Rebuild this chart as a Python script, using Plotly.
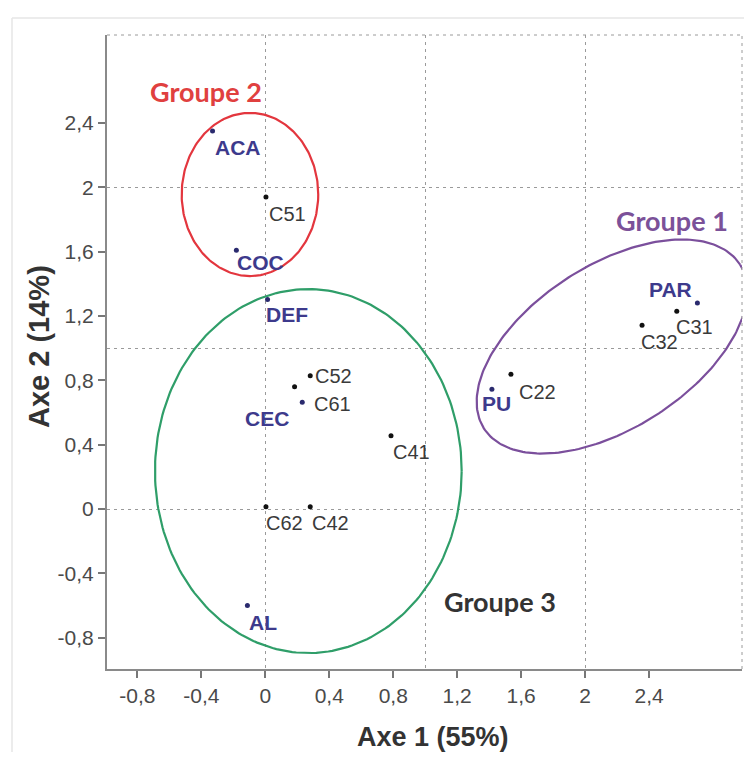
import numpy as np
import plotly.graph_objects as go

# ---- data ----
var_names = ["ACA", "COC", "DEF", "CEC", "AL", "PU", "PAR"]
var_x = [-0.33, -0.181, 0.014, 0.231, -0.112, 1.417, 2.702]
var_y = [2.35, 1.609, 1.302, 0.663, -0.60, 0.745, 1.281]

samp_names = ["C51", "C52", "C61", "C41", "C62", "C42", "C22", "C32", "C31"]
samp_x = [0.004, 0.281, 0.183, 0.786, 0.004, 0.281, 1.536, 2.356, 2.573]
samp_y = [1.94, 0.828, 0.76, 0.455, 0.014, 0.014, 0.837, 1.143, 1.230]

tick_vals = [-0.8, -0.4, 0, 0.4, 0.8, 1.2, 1.6, 2, 2.4]
tick_text = ["-0,8", "-0,4", "0", "0,4", "0,8", "1,2", "1,6", "2", "2,4"]

groups = ["Groupe 1", "Groupe 2", "Groupe 3"]
group_label_x = [2.541, -0.374, 1.468]
group_label_y = [1.792, 2.596, -0.576]
# ellipse geometry: centre x, centre y, semi-axis a, semi-axis b, angle (deg)
ell_cx = [2.168, -0.096, 0.269]
ell_cy = [1.010, 1.955, 0.236]
ell_a = [0.949, 0.427, 0.959]
ell_b = [0.508, 0.507, 1.131]
ell_ang = [32.4, 0.0, 0.0]

# ---- styles ----
group_colors = ["#7b4f9c", "#e3363e", "#2f9e69"]
group_text_colors = ["#7b5199", "#e0403f", "#333333"]
var_color = "#3d3a8c"
dot_var = "#2a2a6e"
samp_color = "#3a3a3a"

# label offsets in px (dx right, dy down)
label_off = {
    "ACA": (25, 17), "COC": (24, 12), "DEF": (19, 15), "CEC": (-35, 16),
    "AL": (16, 17), "PU": (5, 14), "PAR": (-27, -13),
    "C51": (22, 17), "C52": (23, 0), "C61": (38, 17), "C41": (20, 16),
    "C62": (19, 16), "C42": (20, 16), "C22": (27, 18), "C32": (17, 17),
    "C31": (18, 16),
}

fig = go.Figure()

t = np.linspace(0, 2 * np.pi, 241)
for i in range(len(groups)):
    th = np.deg2rad(ell_ang[i])
    ex = ell_cx[i] + ell_a[i] * np.cos(t) * np.cos(th) - ell_b[i] * np.sin(t) * np.sin(th)
    ey = ell_cy[i] + ell_a[i] * np.cos(t) * np.sin(th) + ell_b[i] * np.sin(t) * np.cos(th)
    fig.add_trace(go.Scatter(x=ex, y=ey, mode="lines",
                             line=dict(color=group_colors[i], width=2.2),
                             hoverinfo="skip", showlegend=False))

fig.add_trace(go.Scatter(x=samp_x, y=samp_y, mode="markers",
                         marker=dict(color="#111111", size=5),
                         text=samp_names, showlegend=False))
fig.add_trace(go.Scatter(x=var_x, y=var_y, mode="markers",
                         marker=dict(color=dot_var, size=5),
                         text=var_names, showlegend=False))

annotations = []
for n, x, y in zip(samp_names, samp_x, samp_y):
    dx, dy = label_off[n]
    annotations.append(dict(x=x, y=y, text=n, showarrow=False, xshift=dx, yshift=-dy,
                            xanchor="center", yanchor="middle",
                            font=dict(family="Liberation Sans, Arial", size=20, color=samp_color)))
for n, x, y in zip(var_names, var_x, var_y):
    dx, dy = label_off[n]
    annotations.append(dict(x=x, y=y, text="<b>%s</b>" % n, showarrow=False, xshift=dx, yshift=-dy,
                            xanchor="center", yanchor="middle",
                            font=dict(family="Liberation Sans, Arial", size=21, color=var_color)))
for g, x, y, c in zip(groups, group_label_x, group_label_y, group_text_colors):
    annotations.append(dict(x=x, y=y, text="<b>%s</b>" % g, showarrow=False,
                            xanchor="center", yanchor="middle",
                            font=dict(family="Lato, Open Sans", size=27, color=c)))

annotations.append(dict(xref="paper", yref="paper", x=0.5126, y=-0.1075, text="<b>Axe 1 (55%)</b>",
                        showarrow=False, xanchor="center", yanchor="middle",
                        font=dict(family="Liberation Sans, Arial", size=27, color="#333333")))
annotations.append(dict(xref="paper", yref="paper", x=-0.107, y=0.508, text="<b>Axe 2 (14%)</b>",
                        showarrow=False, xanchor="center", yanchor="middle", textangle=-90,
                        font=dict(family="Liberation Sans, Arial", size=29, color="#333333")))

grid_style = dict(showgrid=True, gridcolor="#9a9a9a", gridwidth=1, griddash="3px,4px")

axis_common = dict(
    tickmode="array", tickvals=tick_vals, ticktext=tick_text,
    ticks="outside", ticklen=7, tickwidth=1.5, tickcolor="#777777",
    showline=True, linecolor="#8a8a8a", linewidth=2,
    showgrid=False, zeroline=False,
    tickfont=dict(family="Liberation Sans, Arial", size=21, color="#4a4a4a"),
    minor=dict(tickmode="array", tickvals=[0, 1, 2], ticks="", **grid_style),
)

fig.update_layout(
    width=736, height=744,
    margin=dict(l=99, r=2, t=27, b=83),
    paper_bgcolor="white", plot_bgcolor="white",
    xaxis=dict(range=[-0.990, 2.981], **axis_common),
    yaxis=dict(range=[-0.994, 2.946], **axis_common),
    annotations=annotations,
    shapes=[
        dict(type="line", xref="paper", yref="paper", x0=0, x1=1, y0=1, y1=1,
             line=dict(color="#9a9a9a", width=1, dash="3px,4px")),
        dict(type="line", xref="paper", yref="paper", x0=1, x1=1, y0=0, y1=1,
             line=dict(color="#9a9a9a", width=1, dash="3px,4px")),
        dict(type="line", xref="paper", yref="paper", x0=-0.1496, x1=1.02, y0=1.0268, y1=1.0268,
             line=dict(color="#e6e6e6", width=1.5)),
        dict(type="line", xref="paper", yref="paper", x0=-0.1496, x1=-0.1496, y0=-0.2, y1=1.0268,
             line=dict(color="#e6e6e6", width=1.5)),
    ],
)

fig.write_html("out.html")
